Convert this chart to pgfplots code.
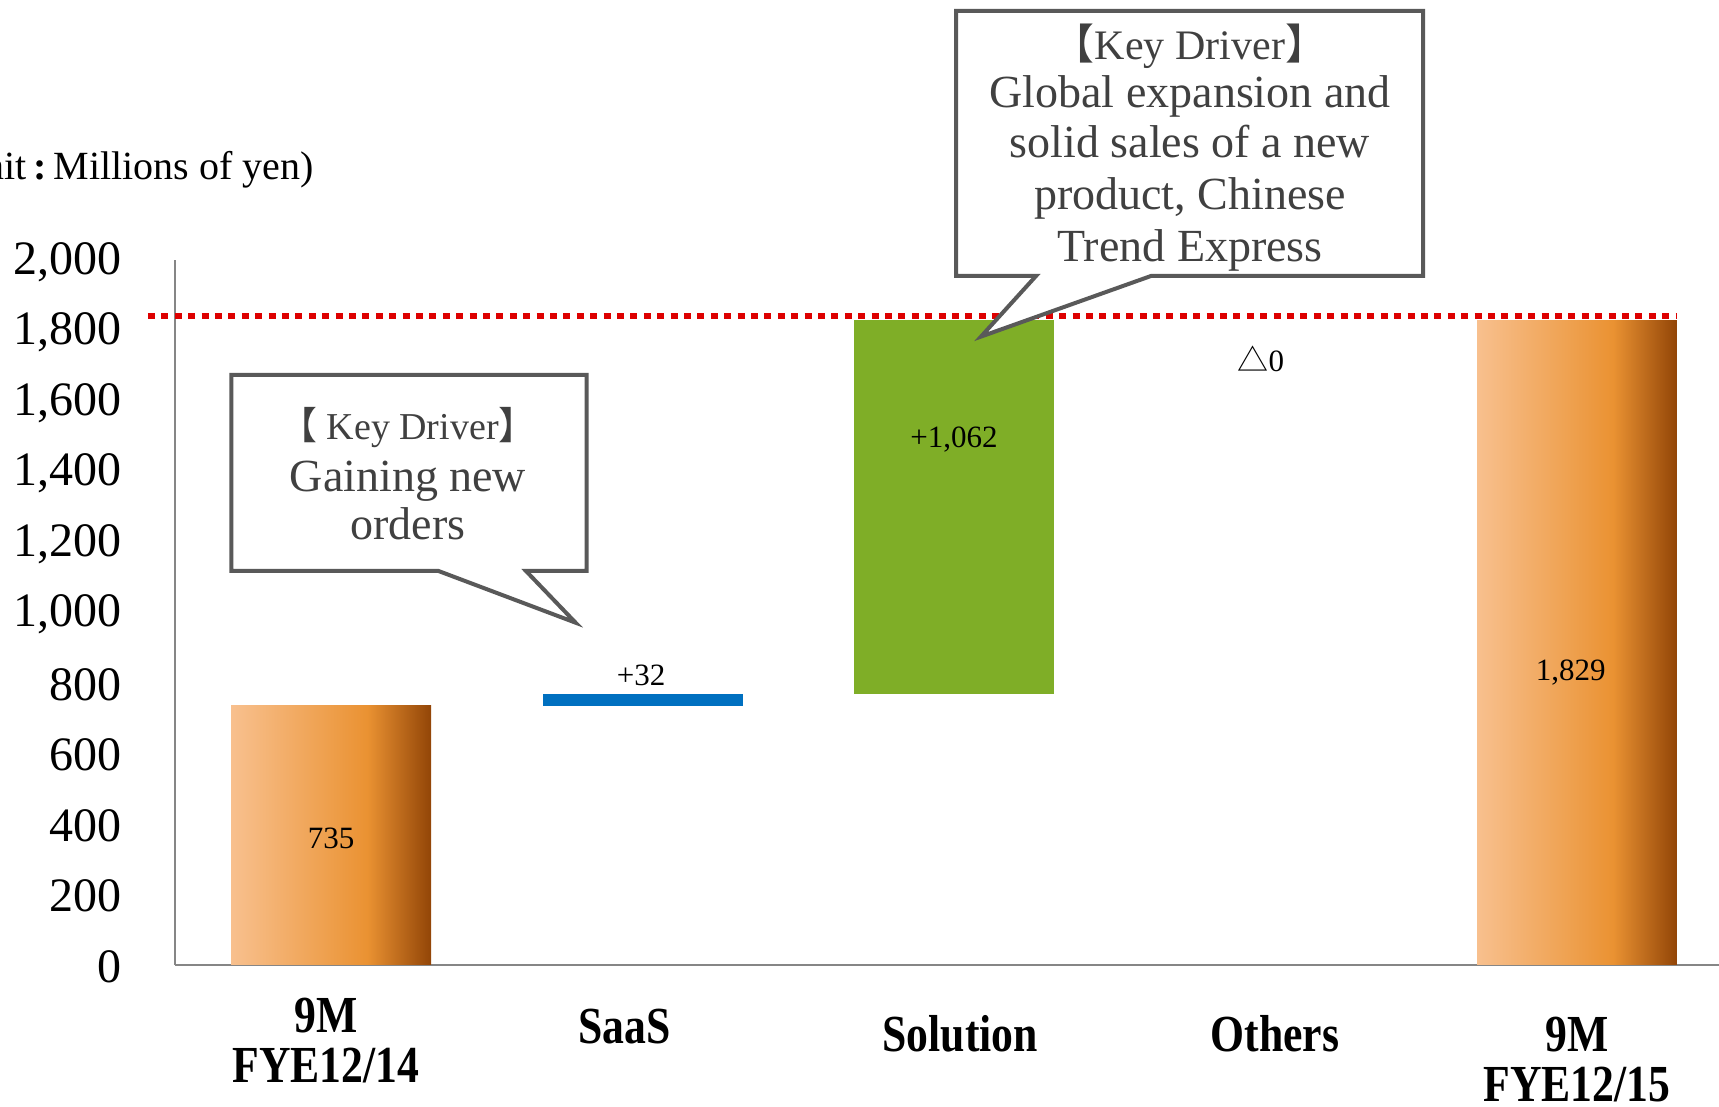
\documentclass[border=0pt]{standalone}
\usepackage{fontspec}
\setmainfont{Liberation Serif}
\newfontfamily\cjk{Noto Sans CJK JP}
\newfontfamily\catfont[FakeStretch=0.84]{Liberation Serif}
\usepackage{pgfplots}
\pgfplotsset{compat=1.18}

\definecolor{barLight}{HTML}{F8C08E}
\definecolor{barMid}{HTML}{EA9232}
\definecolor{barDark}{HTML}{924507}
\definecolor{saasBlue}{HTML}{0070C0}
\definecolor{solGreen}{HTML}{7FAE27}
\definecolor{targetRed}{HTML}{DD0000}
\definecolor{calloutLine}{HTML}{595959}
\definecolor{calloutText}{HTML}{404040}
\definecolor{axisGrey}{HTML}{868686}

% light peach -> orange -> brown, left to right across each total bar
\pgfdeclarehorizontalshading{orangebar}{100bp}{color(0bp)=(barLight); color(25bp)=(barLight); color(59bp)=(barMid); color(75bp)=(barDark); color(100bp)=(barDark)}

% two centred lines whose box baseline is the first line
\newcommand\twolines[2]{\vtop{\baselineskip=25pt\lineskiplimit=-\maxdimen\halign{\hfil##\hfil\cr#1\cr#2\cr}}}

\tikzset{lbl/.style={font=\fontsize{15.5}{18}\selectfont, anchor=center, inner sep=0pt}}
\pgfplotsset{totalbar/.style={ybar, bar shift=0pt, bar width=0.642, draw=none, shade, shading=orangebar, stack plots=false}}

\begin{document}
\begin{tikzpicture}
\begin{axis}[
  at={(0,0)}, anchor=south west,
  scale only axis, width=771.8pt, height=352.45pt,
  xmin=-0.5, xmax=4.456, ymin=0, ymax=2000,
  axis lines*=left,
  axis line style={draw=axisGrey, line width=1pt},
  clip=false,
  major tick length=0pt,
  ytick={0,200,...,2000},
  xtick={-0.017,0.943,2.02,3.03,4.0},
  xticklabels={
    {\raisebox{9.5pt}{\twolines{9M}{FYE12/14}}},
    {\raisebox{4pt}{SaaS}},
    {Solution},
    {Others},
    {\twolines{9M}{FYE12/15}}
  },
  yticklabel style={anchor=east, inner sep=0pt, xshift=-26.5pt, yshift=-1pt, font=\fontsize{24}{28}\selectfont},
  xticklabel style={anchor=base, inner sep=0pt, yshift=-43.5pt, font=\catfont\bfseries\fontsize{26}{25}\selectfont},
  /pgf/number format/1000 sep={,},
  /pgf/number format/assume math mode=true,
]
% totals, one plot each so every bar carries its own gradient
\addplot[totalbar] coordinates {(0,735)};
\addplot[totalbar] coordinates {(4,1829)};
% floating changes: invisible base, then SaaS and Solution increments
\addplot[ybar stacked, bar width=0.642, draw=none, fill=none]
  coordinates {(1,735) (2,767)};
\addplot[ybar stacked, bar width=0.642, draw=none, fill=saasBlue]
  coordinates {(1,32) (2,0)};
\addplot[ybar stacked, bar width=0.642, draw=none, fill=solGreen]
  coordinates {(1,0) (2,1062)};

\node[lbl] at (axis cs:0,357.5) {735};
\node[lbl] at (axis cs:0.995,822) {+32};
\node[lbl] at (axis cs:2,1489) {+1,062};
\node[lbl] at (axis cs:3.98,830) {1,829};
\node[lbl] at (axis cs:2.985,1720) {{\cjk △}0};
\end{axis}

\begin{scope}[x=0.5pt, y=-0.5pt, shift={(-175.4,-964.7)}]
  % target level
  \draw[line width=3pt, draw=targetRed, dash pattern=on 3.5pt off 3.2pt] (148,315.7) -- (1677,315.7);
  % callout over SaaS
  \draw[line width=2pt, draw=calloutLine, fill=white, line join=miter]
    (231.3,375) -- (586.5,375) -- (586.5,571) -- (526,571) -- (575.6,622.7) -- (438.5,571) -- (231.3,571) -- cycle;
  \begin{scope}[every node/.style={anchor=base, inner sep=0pt, text=calloutText}]
    \node[font=\fontsize{19}{22}\selectfont] at (408,440) {{\cjk 【} Key Driver{\cjk 】}};
    \node[font=\fontsize{23}{26}\selectfont] at (408,492) {Gaining new};
    \node[font=\fontsize{23}{26}\selectfont] at (408,540) {orders};
  \end{scope}
  % callout over Solution
  \draw[line width=2pt, draw=calloutLine, fill=white, line join=miter]
    (956,11) -- (1423,11) -- (1423,276) -- (1151,276) -- (981,336.6) -- (1036,276) -- (956,276) -- cycle;
  \begin{scope}[every node/.style={anchor=base, inner sep=0pt, text=calloutText}]
    \node[font=\fontsize{21}{24}\selectfont] at (1190,60) {{\cjk 【}Key Driver{\cjk 】}};
    \node[font=\fontsize{23}{26}\selectfont] at (1190,108) {Global expansion and};
    \node[font=\fontsize{23}{26}\selectfont] at (1190,158) {solid sales of a new};
    \node[font=\fontsize{23}{26}\selectfont] at (1190,210) {product, Chinese};
    \node[font=\fontsize{23}{26}\selectfont] at (1190,262) {Trend Express};
  \end{scope}
  % unit
  \node[anchor=base east, inner sep=0pt, font=\fontsize{20}{24}\selectfont] at (314,180) {(Unit\,\textbf{:}\,Millions of yen)};
\end{scope}

\pgfresetboundingbox
\useasboundingbox (-87.7pt,-71.15pt) rectangle (771.8pt,482.35pt);
\end{tikzpicture}
\end{document}
